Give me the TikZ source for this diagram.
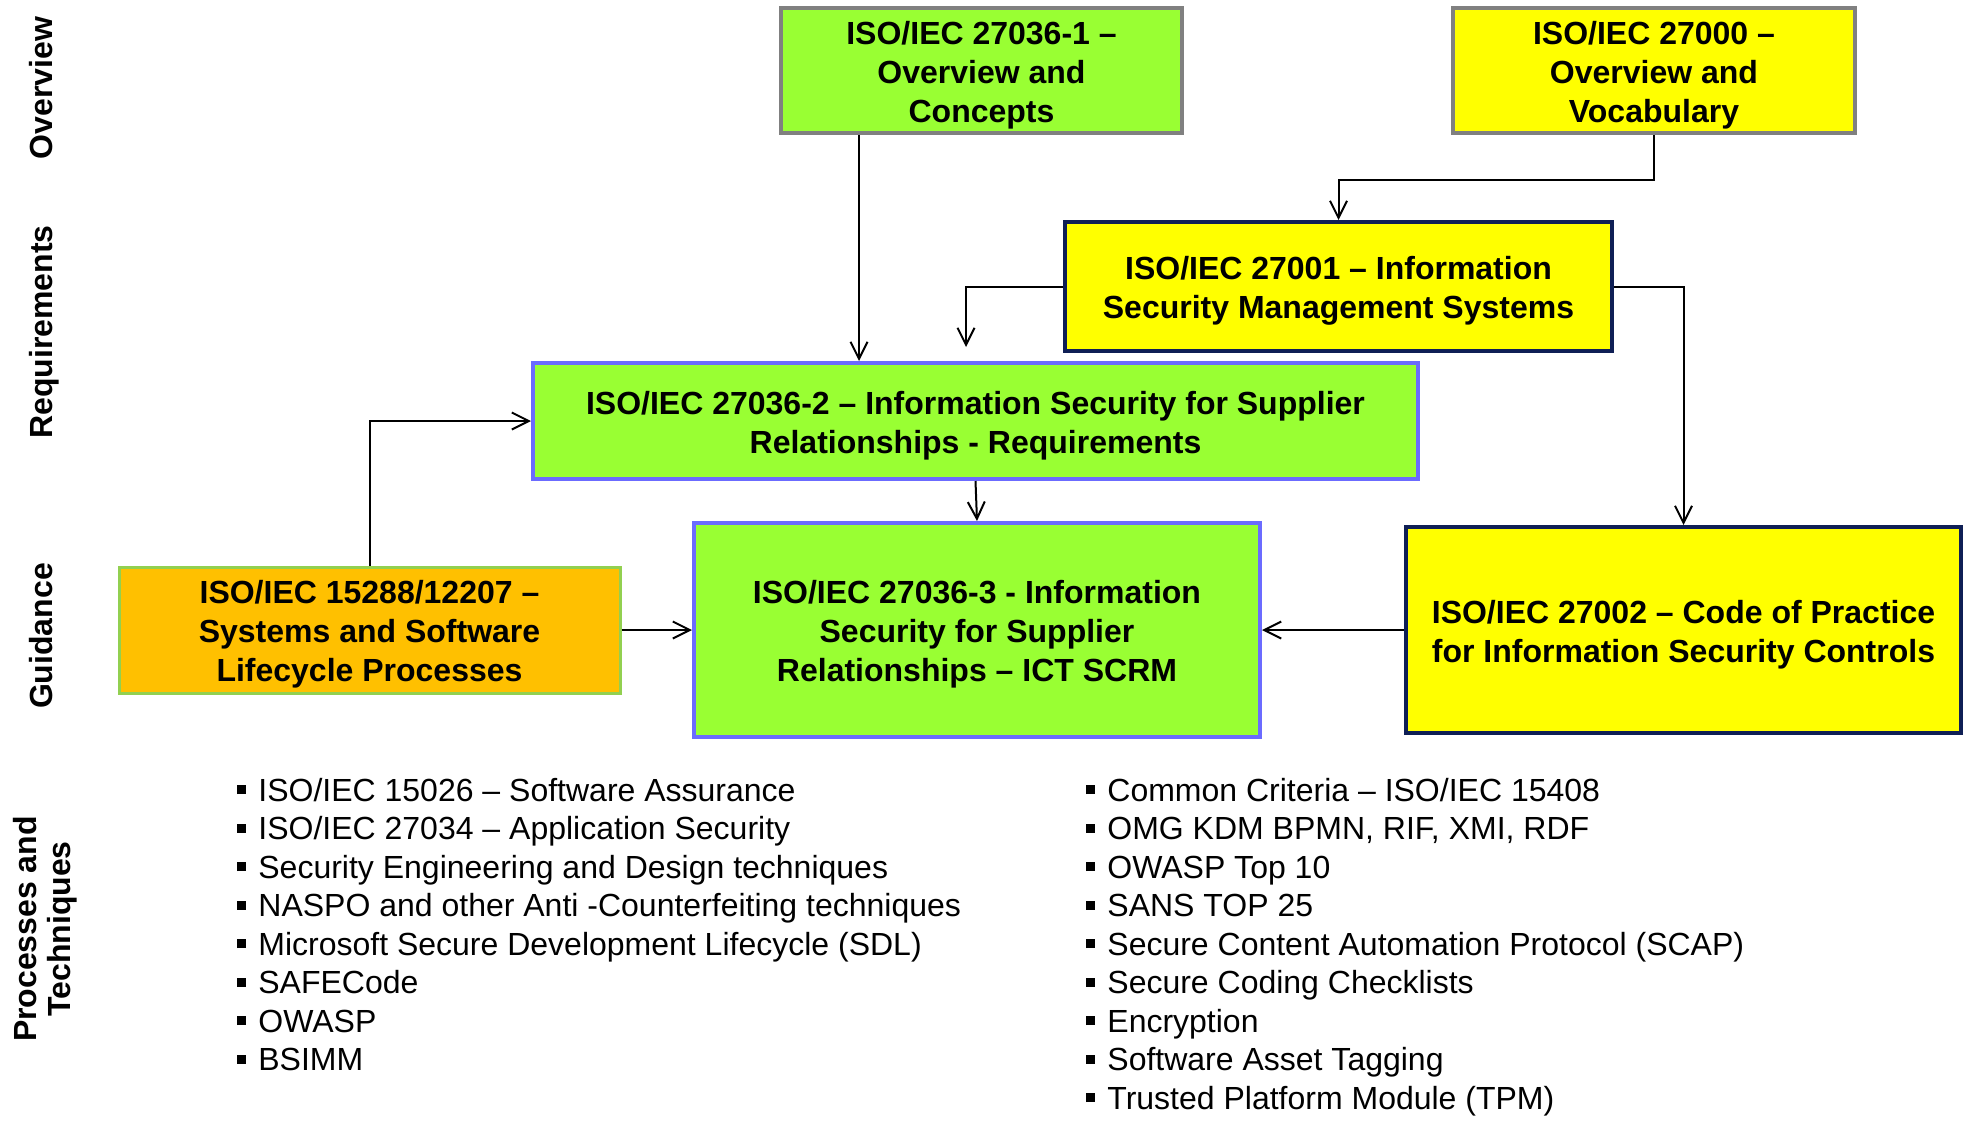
\documentclass[tikz,border=0pt]{standalone}
\usepackage{fontspec}
\setmainfont{Liberation Sans}
\usetikzlibrary{arrows.meta}

\definecolor{stdgreen}{HTML}{99FF33}
\definecolor{stdyellow}{HTML}{FFFF00}
\definecolor{stdorange}{HTML}{FFC000}
\definecolor{edgegray}{HTML}{808080}
\definecolor{edgeblue}{HTML}{6B6BFF}
\definecolor{edgenavy}{HTML}{0F1F55}
\definecolor{edgegreen}{HTML}{92D050}

% small square list marker
\newcommand\sqbullet{\rule[3.5pt]{4.5pt}{4.5pt}\hspace{6pt}}
% line strut giving box text a full line height above and below
\newcommand\ls{\rule[-3.4pt]{0pt}{19.4pt}}

\begin{document}
\begin{tikzpicture}[x=0.5pt,y=-0.5pt,
  stdbox/.style={rectangle, draw, line width=2pt, align=center, inner sep=0pt,
    font=\bfseries\fontsize{16}{19.5}\selectfont},
  overviewbox/.style={stdbox, draw=edgegray},
  supplierbox/.style={stdbox, draw=edgeblue, fill=stdgreen},
  isbox/.style={stdbox, draw=edgenavy, fill=stdyellow},
  arr/.style={-{Straight Barb[length=8.5pt,width=8.5pt]}, line width=1pt},
  listitem/.style={anchor=base west, inner sep=0pt, font=\fontsize{16}{19.25}\selectfont},
  lane/.style={rotate=90, inner sep=0pt, align=center,
    font=\bfseries\fontsize{16}{17}\selectfont}]

\useasboundingbox (0,0) rectangle (1965,1121);

% lane labels
\node[lane, anchor=base] (lov) at (52,88) {Overview};
\node[lane, anchor=base] (lrq) at (52,332) {Requirements};
\node[lane, anchor=base] (lgd) at (52,636) {Guidance};
\node[lane] (lpt) at (45,929) {Processes and\\Techniques};

% standards
\node[overviewbox, fill=stdgreen, minimum width=200.5pt, minimum height=62.5pt]
  (A) at (981.5,70.5) {\ls ISO/IEC 27036-1 –\\Overview and\\Concepts\ls};
\node[overviewbox, fill=stdyellow, minimum width=201pt, minimum height=62.5pt]
  (Y) at (1654,70.5) {\ls ISO/IEC 27000 –\\Overview and\\Vocabulary\ls};
\node[isbox, minimum width=273.5pt, minimum height=64.5pt]
  (C) at (1338.5,286.5) {\ls ISO/IEC 27001 – Information\\Security Management Systems\ls};
\node[supplierbox, minimum width=442.5pt, minimum height=58pt]
  (B) at (975.5,421) {\ls ISO/IEC 27036-2 – Information Security for Supplier\\Relationships - Requirements\ls};
\node[supplierbox, minimum width=283pt, minimum height=107pt]
  (D) at (977,630) {\ls ISO/IEC 27036-3 - Information\\Security for Supplier\\Relationships – ICT SCRM\ls};
\node[stdbox, draw=edgegreen, line width=1.5pt, fill=stdorange, minimum width=250.5pt, minimum height=63pt]
  (O) at (369.5,630) {\ls ISO/IEC 15288/12207 –\\Systems and Software\\Lifecycle Processes\ls};
\node[isbox, minimum width=277.5pt, minimum height=103pt]
  (E) at (1683.5,630) {\ls ISO/IEC 27002 – Code of Practice\\for Information Security Controls\ls};

% connectors
\coordinate (xa) at (859,0);
\coordinate (cb) at (966,347);
\draw[arr] (A.south -| xa) -- (B.north -| xa);
\draw[arr] (Y.south) -- ++(0,45) -| (C.north);
\draw[arr] (C.west) -| (cb);
\draw[arr] (C.east) -| (E.north);
\draw[arr] (B.south) -- (D.north);
\draw[arr] (O.north) |- (B.west);
\draw[arr] (O.east) -- (D.west);
\draw[arr] (E.west) -- (D.east);

% processes and techniques
\foreach [count=\i] \t in {
  {ISO/IEC 15026 – Software Assurance},
  {ISO/IEC 27034 – Application Security},
  {Security Engineering and Design techniques},
  {NASPO and other Anti -Counterfeiting techniques},
  {Microsoft Secure Development Lifecycle (SDL)},
  {SAFECode},
  {OWASP},
  {BSIMM}}
  \node[listitem] (pl\i) at (237,{801+(\i-1)*38.5}) {\sqbullet\t};

\foreach [count=\i] \t in {
  {Common Criteria – ISO/IEC 15408},
  {OMG KDM BPMN, RIF, XMI, RDF},
  {OWASP Top 10},
  {SANS TOP 25},
  {Secure Content Automation Protocol (SCAP)},
  {Secure Coding Checklists},
  {Encryption},
  {Software Asset Tagging},
  {Trusted Platform Module (TPM)}}
  \node[listitem] (pr\i) at (1086,{801+(\i-1)*38.5}) {\sqbullet\t};

\end{tikzpicture}
\end{document}
